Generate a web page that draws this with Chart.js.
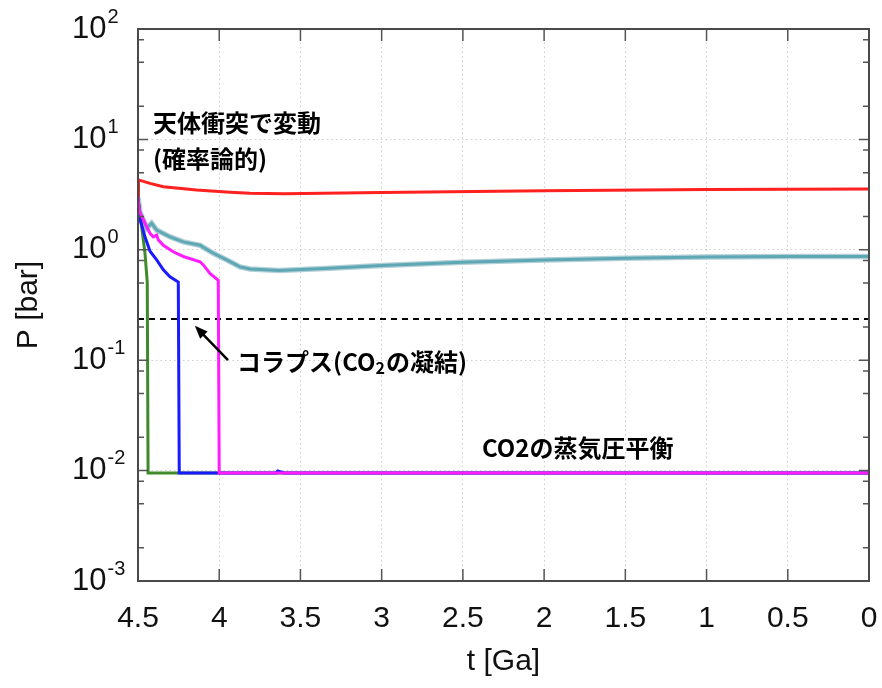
<!DOCTYPE html>
<html>
<head>
<meta charset="utf-8">
<script src="https://cdn.jsdelivr.net/npm/chart.js@4.4.1/dist/chart.umd.min.js"></script>
<style>
html, body { margin: 0; padding: 0; background: #fff; }
</style>
</head>
<body>
<canvas id="mycanvas" width="882" height="688"></canvas>
<script>
// values: t in Ga, P in bar
var redT = [4.5, 4.497, 4.426, 4.344, 4.139, 3.934, 3.81, 3.6, 3.0, 2.0, 1.0, 0];
var redP = [2.6, 4.3, 4.0, 3.73, 3.48, 3.32, 3.25, 3.22, 3.3, 3.42, 3.52, 3.55];

var cyanT = [4.5, 4.488, 4.447, 4.416, 4.385, 4.303, 4.221, 4.118, 4.087, 4.036, 3.954, 3.872, 3.81, 3.63, 3.32, 3.0, 2.5, 2.0, 1.5, 1.0, 0.5, 0];
var cyanP = [2.95, 2.2, 1.57, 1.74, 1.51, 1.31, 1.18, 1.10, 1.03, 0.93, 0.81, 0.70, 0.67, 0.65, 0.68, 0.72, 0.77, 0.81, 0.84, 0.86, 0.87, 0.87];

var magT = [4.5, 4.49, 4.426, 4.406, 4.385, 4.375, 4.344, 4.283, 4.221, 4.118, 4.098, 4.057, 4.006, 4.0, 0];
var magP = [2.95, 2.2, 1.41, 1.31, 1.36, 1.23, 1.10, 0.96, 0.87, 0.78, 0.73, 0.61, 0.53, 0.0095, 0.0095];

var blueT = [4.5, 4.488, 4.457, 4.426, 4.385, 4.344, 4.303, 4.252, 4.246, 3.65, 3.64, 3.6, 0];
var blueP = [2.95, 1.9, 1.31, 0.97, 0.81, 0.66, 0.57, 0.51, 0.0095, 0.0095, 0.0099, 0.0095, 0.0095];

var greenT = [4.5, 4.477, 4.457, 4.443, 4.438, 0];
var greenP = [2.95, 1.6, 0.93, 0.51, 0.0095, 0.0095];

var collapseT = [4.5, 0];
var collapseP = [0.236, 0.236];

var xTicks = [4.5, 4, 3.5, 3, 2.5, 2, 1.5, 1, 0.5, 0];
var yExp = [-3, -2, -1, 0, 1, 2];
var yMinor = [2, 5, 8];

// annotations, anchored in data units ('_' marks a subscript character)
var noteText = ['天体衝突で変動', '(確率論的)', 'コラプス(CO_2の凝結)', 'CO2の蒸気圧平衡'];
var noteT = [4.408, 4.408, 3.89, 2.382];
var noteP = [14.1, 6.64, 0.0964, 0.016];
var arrowFrom = [3.946, 0.1];
var arrowTo = [4.15, 0.205];

function pts(t, p) {
    var out = [];
    for (var i = 0; i < t.length; i++) out.push({x: t[i], y: p[i]});
    return out;
}

function isDecade(v) {
    var l = Math.log10(v);
    return Math.abs(l - Math.round(l)) < 1e-6;
}

var jpFont = 'bold 24px "Noto Sans CJK JP", sans-serif';
var subFont = 'bold 16px "Noto Sans CJK JP", sans-serif';

function drawNote(ctx, txt, x, y) {
    var parts = txt.split('_');
    ctx.font = jpFont;
    ctx.fillText(parts[0], x, y);
    if (parts.length < 2) return;
    x += ctx.measureText(parts[0]).width;
    ctx.font = subFont;
    ctx.fillText(parts[1].charAt(0), x, y + 6);
    x += ctx.measureText(parts[1].charAt(0)).width + 1;
    ctx.font = jpFont;
    ctx.fillText(parts[1].slice(1), x, y);
}

var framePlugin = {
    id: 'frame',
    afterDatasetsDraw: function(chart) {
        var ctx = chart.ctx;
        var a = chart.chartArea;
        var xs = chart.scales.x, ys = chart.scales.y;
        ctx.save();
        // inward ticks
        ctx.strokeStyle = '#555';
        ctx.lineWidth = 1.5;
        ctx.beginPath();
        xTicks.forEach(function(t) {
            var x = xs.getPixelForValue(t);
            ctx.moveTo(x, a.bottom); ctx.lineTo(x, a.bottom - 12);
            ctx.moveTo(x, a.top); ctx.lineTo(x, a.top + 12);
        });
        yExp.forEach(function(e) {
            var y = ys.getPixelForValue(Math.pow(10, e));
            ctx.moveTo(a.left, y); ctx.lineTo(a.left + 10, y);
            ctx.moveTo(a.right, y); ctx.lineTo(a.right - 10, y);
            if (e < 2) {
                yMinor.forEach(function(m) {
                    var ym = ys.getPixelForValue(m * Math.pow(10, e));
                    ctx.moveTo(a.left, ym); ctx.lineTo(a.left + 6, ym);
                    ctx.moveTo(a.right, ym); ctx.lineTo(a.right - 6, ym);
                });
            }
        });
        ctx.stroke();
        // frame
        ctx.strokeStyle = '#4a4a4a';
        ctx.lineWidth = 2;
        ctx.strokeRect(a.left, a.top, a.right - a.left, a.bottom - a.top);

        // y tick labels as 10 with superscript exponent
        ctx.fillStyle = '#111';
        ctx.textBaseline = 'middle';
        ctx.textAlign = 'left';
        yExp.forEach(function(e) {
            var y = ys.getPixelForValue(Math.pow(10, e));
            var x0 = a.left - 66;
            ctx.font = '31px "Liberation Sans", Arial, sans-serif';
            ctx.fillText('10', x0, y);
            var w = ctx.measureText('10').width;
            ctx.font = '20px "Liberation Sans", Arial, sans-serif';
            ctx.fillText(String(e), x0 + w + 1, y - 12);
        });

        // annotations
        ctx.fillStyle = '#000';
        for (var i = 0; i < noteText.length; i++) {
            drawNote(ctx, noteText[i], xs.getPixelForValue(noteT[i]), ys.getPixelForValue(noteP[i]));
        }
        // arrow
        var x1 = xs.getPixelForValue(arrowFrom[0]), y1 = ys.getPixelForValue(arrowFrom[1]);
        var x2 = xs.getPixelForValue(arrowTo[0]), y2 = ys.getPixelForValue(arrowTo[1]);
        var ang = Math.atan2(y2 - y1, x2 - x1);
        ctx.strokeStyle = '#000';
        ctx.lineWidth = 2.5;
        ctx.beginPath();
        ctx.moveTo(x1, y1);
        ctx.lineTo(x2 - 8 * Math.cos(ang), y2 - 8 * Math.sin(ang));
        ctx.stroke();
        ctx.beginPath();
        ctx.moveTo(x2, y2);
        ctx.lineTo(x2 - 14 * Math.cos(ang - 0.38), y2 - 14 * Math.sin(ang - 0.38));
        ctx.lineTo(x2 - 14 * Math.cos(ang + 0.38), y2 - 14 * Math.sin(ang + 0.38));
        ctx.closePath();
        ctx.fill();
        ctx.restore();
    }
};

var ctx = document.getElementById('mycanvas').getContext('2d');
var chart = new Chart(ctx, {
    type: 'line',
    data: {
        datasets: [
            { data: pts(magT, magP), borderColor: '#ff1cff', borderWidth: 3 },
            { data: pts(blueT, blueP), borderColor: '#1a1aff', borderWidth: 3 },
            { data: pts(greenT, greenP), borderColor: '#3f8a2a', borderWidth: 3 },
            { data: pts(cyanT, cyanP), borderColor: '#5ea8b6', borderWidth: 3 },
            { data: pts(cyanT, cyanP), borderColor: '#b4cfd6', borderWidth: 5.5 },
            { data: pts(redT, redP), borderColor: '#ff2020', borderWidth: 3 },
            { data: pts(collapseT, collapseP), borderColor: '#000', borderWidth: 2, borderDash: [6, 5] }
        ]
    },
    options: {
        responsive: false,
        animation: false,
        events: [],
        layout: { padding: { left: 0, right: 13, top: 29, bottom: 0 } },
        elements: {
            point: { radius: 0 },
            line: { tension: 0, fill: false }
        },
        plugins: {
            legend: { display: false },
            tooltip: { enabled: false }
        },
        scales: {
            x: {
                type: 'linear',
                reverse: true,
                min: 0,
                max: 4.5,
                afterFit: function(s) {
                    s.height = 107;
                    s.paddingLeft = 0;
                    s.paddingRight = 0;
                },
                afterBuildTicks: function(s) {
                    s.ticks = xTicks.map(function(v) { return {value: v}; });
                },
                grid: { color: '#cfcfcf', lineWidth: 1, drawTicks: false },
                border: { display: false, dash: [1.5, 3] },
                ticks: {
                    padding: 20,
                    color: '#111',
                    font: { family: '"Liberation Sans", Arial, sans-serif', size: 30 },
                    maxRotation: 0,
                    callback: function(v) { return String(v); }
                },
                title: {
                    display: true,
                    text: 't [Ga]',
                    color: '#111',
                    font: { family: '"Liberation Sans", Arial, sans-serif', size: 30 },
                    padding: { top: 0, bottom: 8 }
                }
            },
            y: {
                type: 'logarithmic',
                min: 0.001,
                max: 100,
                afterFit: function(s) {
                    s.width = 138;
                    s.paddingTop = 0;
                    s.paddingBottom = 0;
                },
                grid: {
                    drawTicks: false,
                    lineWidth: 1,
                    color: function(c) {
                        return (c.tick && isDecade(c.tick.value)) ? '#cfcfcf' : 'rgba(0,0,0,0)';
                    }
                },
                border: { display: false, dash: [1.5, 3] },
                ticks: { display: false },
                title: {
                    display: true,
                    text: 'P [bar]',
                    color: '#111',
                    font: { family: '"Liberation Sans", Arial, sans-serif', size: 30 },
                    padding: { top: 11, bottom: 0 }
                }
            }
        }
    },
    plugins: [framePlugin]
});
</script>
</body>
</html>
